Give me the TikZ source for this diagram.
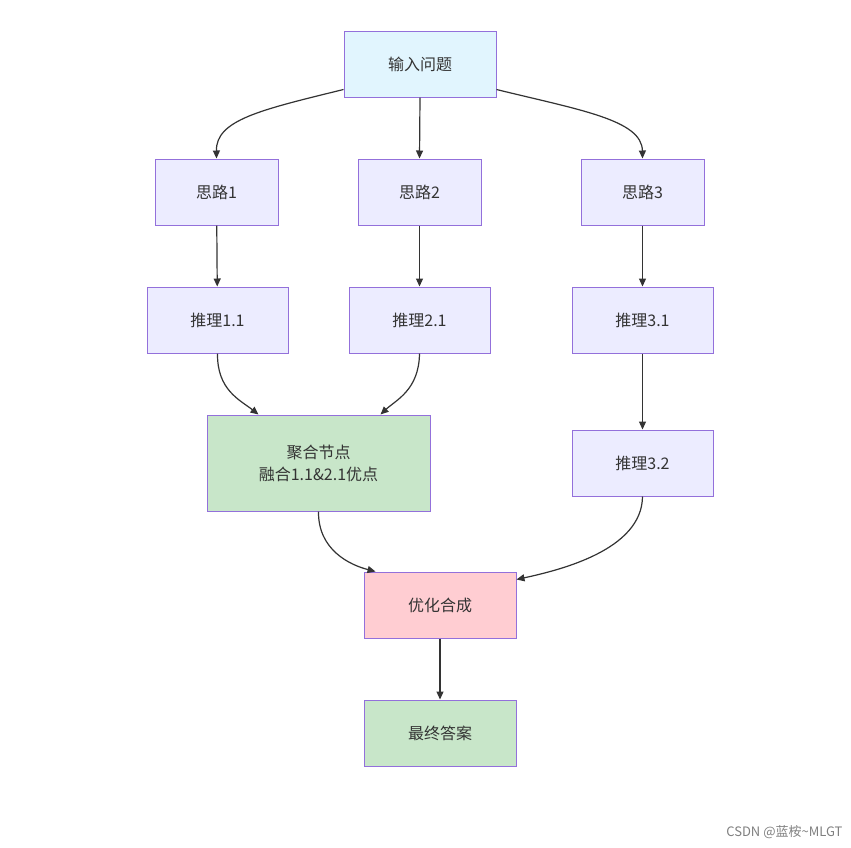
\documentclass[tikz,border=0pt]{standalone}
\usepackage{fontspec}
\setmainfont{Noto Sans CJK SC}
\usetikzlibrary{arrows.meta,calc}
\definecolor{bd}{HTML}{9370DB}
\definecolor{fpur}{HTML}{ECECFF}
\definecolor{fblue}{HTML}{E1F5FE}
\definecolor{fgreen}{HTML}{C8E6C9}
\definecolor{fpink}{HTML}{FFCDD2}
\definecolor{tx}{HTML}{333333}
\begin{document}
\begin{tikzpicture}[x=1pt,y=-1pt,
  box/.style={draw=bd,line width=1pt,fill=fpur,text=tx,font=\fontsize{16}{22}\selectfont,inner sep=0pt,align=center,minimum height=66pt},
  ar/.style={draw=tx,line width=1.2pt,-{Triangle[length=8pt,width=7pt]}}]
\useasboundingbox[fill=white] (0,0) rectangle (851,847);
\node[box,fill=fblue,minimum width=152pt] (in) at (420,64) {输入问题};
\node[box,minimum width=123pt] (s1) at (216.5,192) {思路1};
\node[box,minimum width=123pt] (s2) at (419.5,192) {思路2};
\node[box,minimum width=123pt] (s3) at (642.5,192) {思路3};
\node[box,minimum width=141pt] (r11) at (217.5,320) {推理1.1};
\node[box,minimum width=141pt] (r21) at (419.5,320) {推理2.1};
\node[box,minimum width=141pt] (r31) at (642.5,320) {推理3.1};
\node[box,fill=fgreen,minimum width=223pt,minimum height=96pt] (ag) at (318.5,463) {聚合节点\\融合1.1\&2.1优点};
\node[box,minimum width=141pt] (r32) at (642.5,463) {推理3.2};
\node[box,fill=fpink,minimum width=152pt] (op) at (440,605) {优化合成};
\node[box,fill=fgreen,minimum width=152pt] (fin) at (440,733) {最终答案};
\node[text=gray,font=\fontsize{13}{15}\selectfont,anchor=east] (wm) at (846,832) {CSDN @蓝桉\textasciitilde MLGT};
\draw[ar] ($(in.south west)+(0,-8)$) .. controls (260,110) and (216,120) .. (s1.north);
\draw[ar] (in.south) -- (s2.north);
\draw[ar] ($(in.south east)+(0,-8)$) .. controls (580,110) and (642,120) .. (s3.north);
\draw[ar] (s1) -- (r11);
\draw[ar] (s2) -- (r21);
\draw[ar] (s3) -- (r31);
\draw[ar] (r11.south) .. controls (217,390) and (240,400) .. ($(ag.north)+(-60,0)$);
\draw[ar] (r21.south) .. controls (419,390) and (396,400) .. ($(ag.north)+(62,0)$);
\draw[ar] (r31) -- (r32);
\draw[ar] ($(ag.south)+(0,0)$) .. controls (318,550) and (350,565) .. ($(op.north west)+(12,0)$);
\draw[ar] (r32.south) .. controls (642,550) and (560,570) .. ($(op.north east)+(0,8)$);
\draw[ar] (op) -- (fin);
\end{tikzpicture}
\end{document}
